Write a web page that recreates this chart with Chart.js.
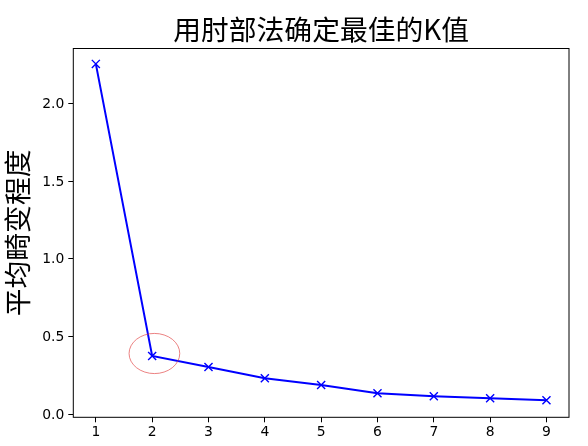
<!DOCTYPE html>
<html>
<head>
<meta charset="utf-8">
<title>用肘部法确定最佳的K值</title>
<script src="https://cdn.jsdelivr.net/npm/chart.js@4"></script>
<style>
  html, body { margin: 0; padding: 0; background: #fff; }
  canvas { display: block; }
</style>
</head>
<body>
<canvas id="elbowChart" width="588" height="446"></canvas>
<script>
// Data
const kValues = [1, 2, 3, 4, 5, 6, 7, 8, 9];
const distortions = [2.253, 0.376, 0.305, 0.233, 0.190, 0.136, 0.117, 0.104, 0.091];
const xTicks = [1, 2, 3, 4, 5, 6, 7, 8, 9];
const yTicks = [0.0, 0.5, 1.0, 1.5, 2.0];
const chartTitle = "用肘部法确定最佳的K值";
const yTitle = "平均畸变程度";

// the red ring around the elbow point (data units)
const elbow = { k: 2.04, value: 0.392, rx: 0.45, ry: 0.129 };

const tickFont = { family: "'DejaVu Sans'", size: 13.9 };
const cjkFont = "'Noto Sans CJK SC'";

// frame, title over the plot area, elbow ring
const framePlugin = {
  id: "frame",
  afterDatasetsDraw(chart) {
    const { ctx, chartArea: a, scales } = chart;
    ctx.save();
    ctx.strokeStyle = "#000";
    ctx.lineWidth = 1;
    ctx.strokeRect(a.left, a.top, a.right - a.left, a.bottom - a.top);

    ctx.fillStyle = "#000";
    ctx.font = "27.8px " + cjkFont;
    ctx.textAlign = "center";
    ctx.textBaseline = "middle";
    ctx.fillText(chartTitle, (a.left + a.right) / 2, 29);

    const cx = scales.x.getPixelForValue(elbow.k);
    const cy = scales.y.getPixelForValue(elbow.value);
    const rx = Math.abs(scales.x.getPixelForValue(elbow.k + elbow.rx) - cx);
    const ry = Math.abs(scales.y.getPixelForValue(elbow.value + elbow.ry) - cy);
    ctx.beginPath();
    ctx.ellipse(cx, cy, rx, ry, 0, 0, Math.PI * 2);
    ctx.strokeStyle = "rgba(225, 70, 70, 0.85)";
    ctx.lineWidth = 0.8;
    ctx.stroke();
    ctx.restore();
  }
};

const config = {
  type: "line",
  data: {
    datasets: [
      {
        data: kValues.map((k, i) => ({ x: k, y: distortions[i] })),
        borderColor: "#0000ff",
        backgroundColor: "#0000ff",
        borderWidth: 2,
        tension: 0,
        pointStyle: "crossRot",
        pointRadius: 5.7,
        pointBorderWidth: 1.4,
        pointHoverRadius: 5.7
      }
    ]
  },
  options: {
    responsive: false,
    animation: false,
    devicePixelRatio: 1,
    layout: { padding: { left: 0, right: 19, top: 48.5, bottom: 0 } },
    plugins: {
      legend: { display: false },
      tooltip: { enabled: false },
      title: { display: false }
    },
    scales: {
      x: {
        type: "linear",
        min: 0.6,
        max: 9.4,
        afterBuildTicks: (s) => { s.ticks = xTicks.map(v => ({ value: v })); },
        afterFit: (s) => { s.height = 28.7; },
        grid: { drawOnChartArea: false, drawTicks: true, tickLength: 5, tickColor: "#000", tickWidth: 1 },
        border: { display: false },
        ticks: { color: "#000", font: tickFont, padding: 2, maxRotation: 0, autoSkip: false }
      },
      y: {
        type: "linear",
        min: -0.018,
        max: 2.352,
        afterBuildTicks: (s) => { s.ticks = yTicks.map(v => ({ value: v })); },
        afterFit: (s) => { s.width = 73.3; },
        grid: { drawOnChartArea: false, drawTicks: true, tickLength: 5, tickColor: "#000", tickWidth: 1 },
        border: { display: false },
        ticks: {
          color: "#000",
          font: tickFont,
          padding: 4,
          labelOffset: 1,
          autoSkip: false,
          callback: (v) => v.toFixed(1)
        },
        title: {
          display: true,
          text: yTitle,
          color: "#000",
          font: { family: cjkFont, size: 27.8, lineHeight: 1.2 },
          padding: { top: 1, bottom: 0 }
        }
      }
    }
  },
  plugins: [framePlugin]
};

// Create chart
const ctx = document.getElementById("elbowChart").getContext("2d");
const elbowChart = new Chart(ctx, config);
</script>
</body>
</html>
